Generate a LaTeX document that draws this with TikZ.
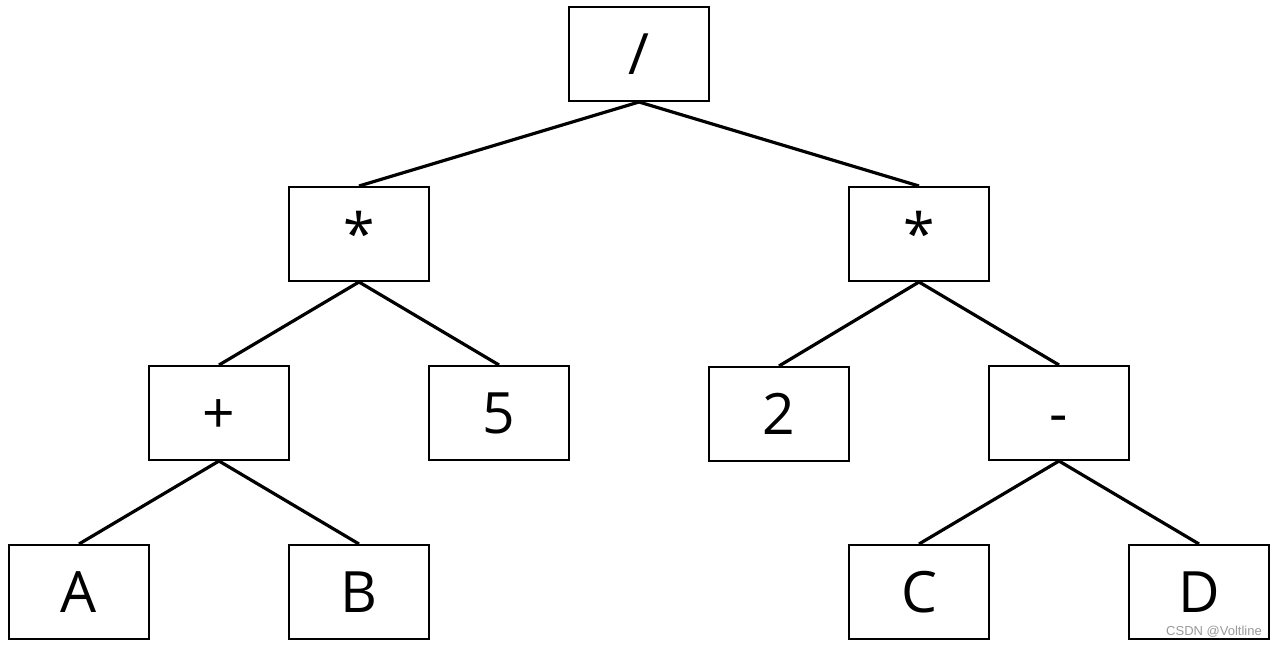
\documentclass[tikz,border=0pt]{standalone}
\usepackage{fontspec}
\setmainfont{Open Sans}
\newfontfamily\wmfont{Liberation Sans}
\begin{document}
\begin{tikzpicture}[x=1pt,y=-1pt,
  tbox/.style={draw=black, line width=2pt, minimum width=140pt, minimum height=94pt,
    inner sep=0pt, font=\fontsize{57}{60}\selectfont, text height=41pt, text depth=0pt, anchor=center},
  edge/.style={line width=3.2pt, draw=black}]
\useasboundingbox (0,0) rectangle (1276,647);
\node[tbox] (root) at (639,54) {/};
\node[tbox] (l) at (359,234) {*};
\node[tbox] (r) at (919,234) {*};
\node[tbox] (plus) at (219,413) {+};
\node[tbox] (five) at (499,413) {5};
\node[tbox] (two) at (779,414) {2};
\node[tbox] (minus) at (1059,413) {-};
\node[tbox] (a) at (79,592) {A};
\node[tbox] (b) at (359,592) {B};
\node[tbox] (c) at (919,592) {C};
\node[tbox] (d) at (1199,592) {D};
\draw[edge] (root.south) -- (l.north);
\draw[edge] (root.south) -- (r.north);
\draw[edge] (l.south) -- (plus.north);
\draw[edge] (l.south) -- (five.north);
\draw[edge] (r.south) -- (two.north);
\draw[edge] (r.south) -- (minus.north);
\draw[edge] (plus.south) -- (a.north);
\draw[edge] (plus.south) -- (b.north);
\draw[edge] (minus.south) -- (c.north);
\draw[edge] (minus.south) -- (d.north);
\node[font=\wmfont\fontsize{13}{15}\selectfont, text=black!40, inner sep=0pt] (wm) at (1214,632) {CSDN @Voltline};
\end{tikzpicture}
\end{document}
